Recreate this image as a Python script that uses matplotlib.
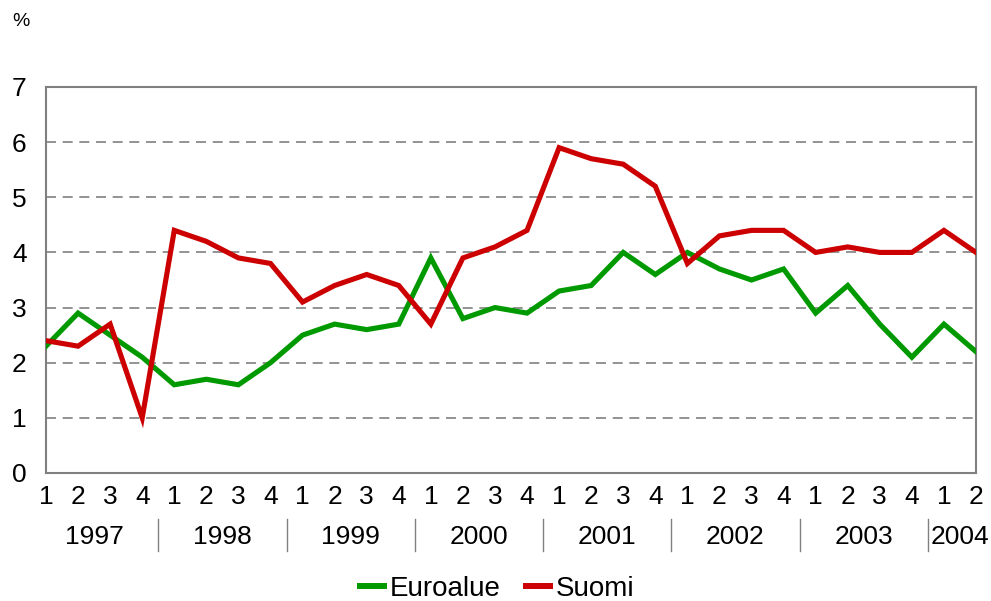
import matplotlib
matplotlib.use("Agg")
import matplotlib.pyplot as plt
from matplotlib.transforms import blended_transform_factory
from matplotlib.lines import Line2D

plt.rcParams['font.family'] = ['Liberation Sans', 'DejaVu Sans']

quarters = ["1", "2", "3", "4"] * 7 + ["1", "2"]
years = ["1997", "1998", "1999", "2000", "2001", "2002", "2003", "2004"]
euroalue = [2.3, 2.9, 2.5, 2.1, 1.6, 1.7, 1.6, 2.0, 2.5, 2.7, 2.6, 2.7, 3.9, 2.8, 3.0,
            2.9, 3.3, 3.4, 4.0, 3.6, 4.0, 3.7, 3.5, 3.7, 2.9, 3.4, 2.7, 2.1, 2.7, 2.2]
suomi = [2.4, 2.3, 2.7, 1.0, 4.4, 4.2, 3.9, 3.8, 3.1, 3.4, 3.6, 3.4, 2.7, 3.9, 4.1,
         4.4, 5.9, 5.7, 5.6, 5.2, 3.8, 4.3, 4.4, 4.4, 4.0, 4.1, 4.0, 4.0, 4.4, 4.0]

W, H = 991, 601
fig = plt.figure(figsize=(W / 100, H / 100), dpi=100)
ax = fig.add_axes([46 / W, 1 - 473 / H, (976 - 46) / W, (473 - 87) / H])

x = list(range(len(quarters)))
ax.plot(x, euroalue, color="#009900", lw=3.7, label="Euroalue", solid_joinstyle="miter", zorder=3)
ax.plot(x, suomi, color="#CC0000", lw=3.7, label="Suomi", solid_joinstyle="miter", zorder=3)

ax.set_xlim(0, len(quarters) - 1)
ax.set_ylim(0, 7)
ax.set_yticks(range(0, 8))
ax.yaxis.grid(True, color="#808080", ls=(0, (6, 4)), lw=1.2)
ax.set_axisbelow(True)
for s in ax.spines.values():
    s.set_color("#808080")
    s.set_linewidth(1.5)

ax.set_xticks(x)
ax.set_xticklabels(quarters)
ax.tick_params(axis="x", length=0, pad=9, labelsize=19, colors="#000000")
ax.tick_params(axis="y", length=0, pad=14, labelsize=19)

trans = blended_transform_factory(ax.transData, fig.transFigure)
for i, yr in enumerate(years):
    idx = [j for j in range(len(quarters)) if j // 4 == i]
    cx = sum(idx) / len(idx)
    fig.text(cx, 1 - 537 / H, yr, transform=trans, ha="center", va="center",
             fontsize=19, color="#000000")
for k in range(1, len(years)):
    sx = 4 * k - 0.5
    fig.add_artist(Line2D([sx, sx], [1 - 519 / H, 1 - 551 / H], transform=trans,
                          color="#808080", lw=1))

fig.text(12 / W, 1 - 22 / H, "%", fontsize=14, ha="left", va="center")

leg = fig.legend(loc="center", bbox_to_anchor=(0.5, 1 - 589 / H), ncol=2, frameon=False,
                 fontsize=20, handlelength=1.08, handletextpad=0.1, columnspacing=0.8,
                 borderaxespad=0, borderpad=0.1)
for h in leg.get_lines():
    h.set_linewidth(4.3)
    h.set_solid_capstyle("butt")

fig.savefig("out.png", dpi=100)
